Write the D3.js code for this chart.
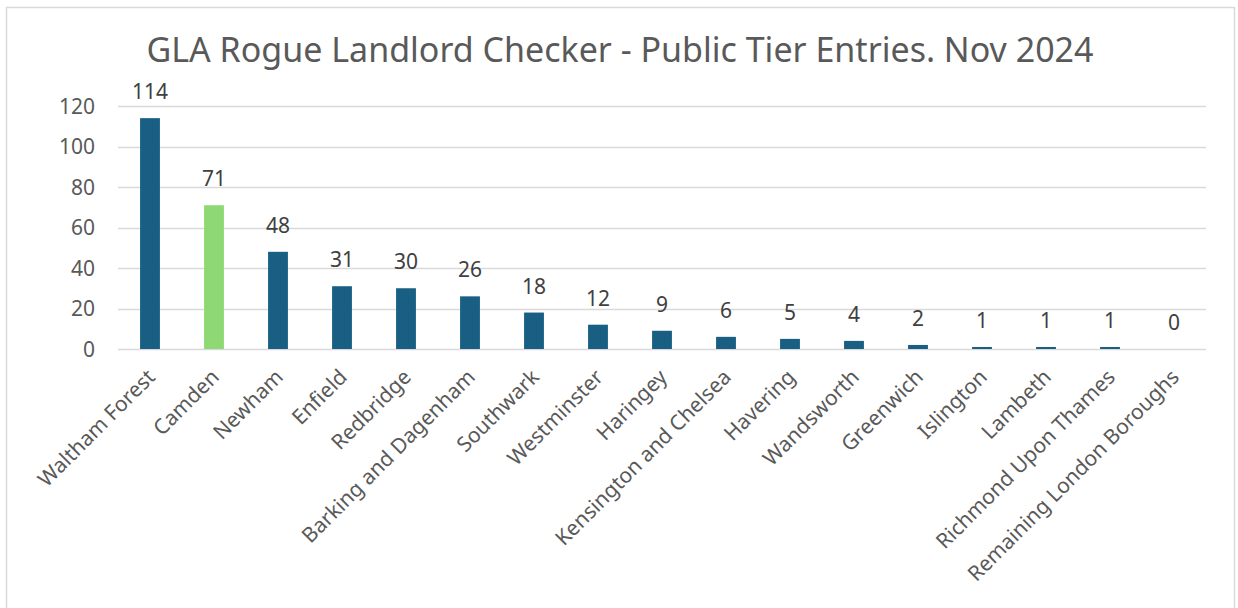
<!DOCTYPE html>
<html>
<head>
<meta charset="utf-8">
<script src="https://cdn.jsdelivr.net/npm/d3@7"></script>
<style>
  body { margin: 0; background: #fff; }
  svg { font-family: "Noto Sans", "Open Sans", sans-serif; }
</style>
</head>
<body>
<svg id="chart" width="1238" height="608"></svg>
<script>
// Data
var boroughs = ['Waltham Forest', 'Camden', 'Newham', 'Enfield', 'Redbridge',
    'Barking and Dagenham', 'Southwark', 'Westminster', 'Haringey',
    'Kensington and Chelsea', 'Havering', 'Wandsworth', 'Greenwich',
    'Islington', 'Lambeth', 'Richmond Upon Thames', 'Remaining London Boroughs'];
var entries = [114, 71, 48, 31, 30, 26, 18, 12, 9, 6, 5, 4, 2, 1, 1, 1, 0];
var yTicks = [0, 20, 40, 60, 80, 100, 120];
var highlight = 'Camden';

var svg = d3.select('#chart');

// Chart frame
svg.append('rect')
    .attr('x', 6.5).attr('y', 7.5)
    .attr('width', 1228).attr('height', 610)
    .style('fill', '#fff')
    .style('stroke', '#d9d9d9')
    .style('stroke-width', 1.5);

// Title
svg.append('text')
    .attr('x', 620).attr('y', 62)
    .attr('text-anchor', 'middle')
    .style('font-size', '34px')
    .style('fill', '#595959')
    .text('GLA Rogue Landlord Checker - Public Tier Entries. Nov 2024');

// Scales
var x = d3.scaleBand()
    .domain(boroughs)
    .range([118, 1206])
    .paddingInner(0.69)
    .paddingOuter(0.345);
var y = d3.scaleLinear()
    .domain([0, 120])
    .range([349, 106]);

// Gridlines
svg.append('g').selectAll('line')
    .data(yTicks)
    .enter().append('line')
    .attr('x1', 118).attr('x2', 1206)
    .attr('y1', function(d) { return Math.round(y(d)) + 0.5; })
    .attr('y2', function(d) { return Math.round(y(d)) + 0.5; })
    .style('stroke', '#d9d9d9')
    .style('stroke-width', 1.5);

// y axis labels
svg.append('g').selectAll('text')
    .data(yTicks)
    .enter().append('text')
    .attr('x', 95)
    .attr('y', function(d) { return y(d); })
    .attr('dy', '0.36em')
    .attr('text-anchor', 'end')
    .style('font-size', '21px')
    .style('fill', '#595959')
    .text(function(d) { return d; });

// Bars
svg.append('g').selectAll('rect')
    .data(boroughs)
    .enter().append('rect')
    .attr('x', function(d) { return x(d); })
    .attr('width', x.bandwidth())
    .attr('y', function(d, i) { return y(entries[i]); })
    .attr('height', function(d, i) { return y(0) - y(entries[i]); })
    .style('fill', function(d) { return d === highlight ? '#8ed973' : '#195e83'; });

// Value labels
svg.append('g').selectAll('text')
    .data(boroughs)
    .enter().append('text')
    .attr('x', function(d) { return x(d) + x.bandwidth() / 2; })
    .attr('y', function(d, i) { return y(entries[i]) - 19; })
    .attr('text-anchor', 'middle')
    .style('font-size', '21px')
    .style('fill', '#404040')
    .text(function(d, i) { return entries[i]; });

// Category labels, rotated
svg.append('g').selectAll('text')
    .data(boroughs)
    .enter().append('text')
    .attr('transform', function(d) {
        return 'translate(' + (x(d) + x.bandwidth() / 2 - 4) + ',368) rotate(-45)';
    })
    .attr('text-anchor', 'end')
    .attr('dy', '0.7em')
    .style('font-size', '21px')
    .style('fill', '#595959')
    .text(function(d) { return d; });
</script>
</body>
</html>
